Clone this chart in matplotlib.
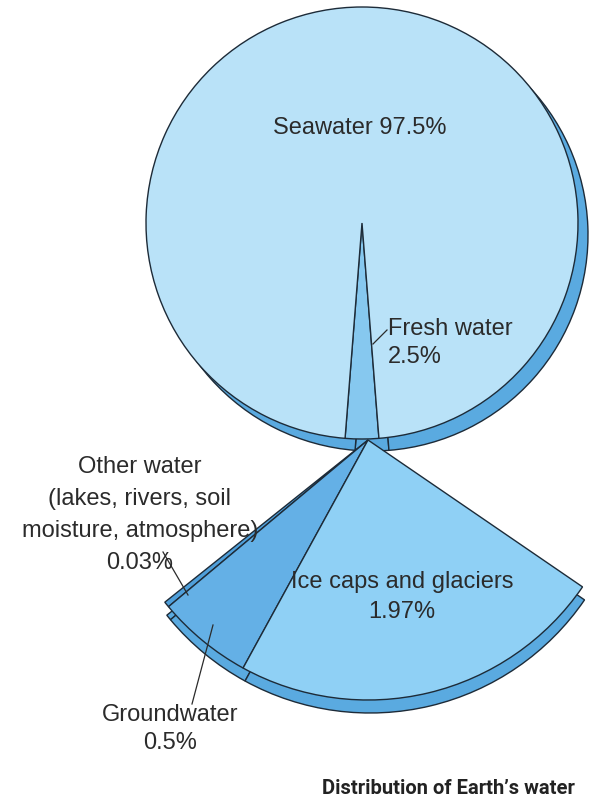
import matplotlib.pyplot as plt

# Earth's water, percent of total
world_labels = ["Fresh water", "Seawater"]
world_values = [2.5, 97.5]

# breakdown of the fresh water share (counter-clockwise order in the fan)
fresh_labels = ["Other water", "Groundwater", "Ice caps and glaciers"]
fresh_values = [0.03, 0.5, 1.97]

W, H = 596, 807
EDGE = "#1d2b38"
TEXT = "#2b2b2b"
RIM = "#5aaae0"

fig = plt.figure(figsize=(W / 100, H / 100), dpi=100)
ax = fig.add_axes([0, 0, 1, 1])

# big pie: whole planet
big_c = (362, H - 223)
big_r = 216
big_depth = (10, -12)
start = 270 - world_values[0] / sum(world_values) * 180
wp = dict(edgecolor=EDGE, linewidth=1.0)
ax.pie(world_values, radius=big_r, startangle=start,
       center=(big_c[0] + big_depth[0], big_c[1] + big_depth[1]),
       colors=[RIM, RIM], wedgeprops=wp, frame=True)
ax.pie(world_values, radius=big_r, startangle=start, center=big_c,
       colors=["#86c8ef", "#b9e2f8"], wedgeprops=wp, frame=True)

# fan: fresh water exploded out below, not to scale
fan_c = (368, H - 440)
fan_r = 260
fan_span = 107
fan_depth = (2, -13)
fan_frac = [v / sum(fresh_values) * fan_span / 360 for v in fresh_values]
fan_start = 218.6
ax.pie(fan_frac, radius=fan_r, startangle=fan_start, normalize=False,
       center=(fan_c[0] + fan_depth[0], fan_c[1] + fan_depth[1]),
       colors=[RIM] * 3, wedgeprops=wp, frame=True)
ax.pie(fan_frac, radius=fan_r, startangle=fan_start, normalize=False,
       center=fan_c, colors=["#4f9fda", "#64b0e6", "#8fd0f5"],
       wedgeprops=wp, frame=True)

# pixel canvas, y up
ax.set_xlim(0, W)
ax.set_ylim(0, H)
ax.set_aspect("equal")
ax.axis("off")

fs = 17
font = "Liberation Sans"
ax.text(360, H - 128, f"{world_labels[1]} {world_values[1]}%", ha="center",
        va="center", fontsize=fs, family=font, color=TEXT)
ax.text(388, H - 343, f"{world_labels[0]}\n{world_values[0]}%", ha="left",
        va="center", fontsize=fs, family=font, color=TEXT, linespacing=1.35)
ax.plot([373, 387], [H - 344, H - 330], color=TEXT, lw=0.9)

ax.text(140, H - 515,
        f"{fresh_labels[0]}\n(lakes, rivers, soil\nmoisture, atmosphere)\n{fresh_values[0]}%",
        ha="center", va="center", fontsize=fs, family=font, color=TEXT,
        linespacing=1.57)
ax.plot([163, 188], [H - 552, H - 595], color=TEXT, lw=0.9)

ax.text(402, H - 597, f"{fresh_labels[2]}\n{fresh_values[2]}%", ha="center",
        va="center", fontsize=fs, family=font, color=TEXT, linespacing=1.5)

ax.text(170, H - 729, f"{fresh_labels[1]}\n{fresh_values[1]}%", ha="center",
        va="center", fontsize=fs, family=font, color=TEXT, linespacing=1.35)
ax.plot([213, 192], [H - 625, H - 704], color=TEXT, lw=0.9)

ax.text(448, H - 789, "Distribution of Earth\u2019s water", ha="center",
        va="center", fontsize=14.5, family="Roboto", weight="bold",
        color="#222222")

fig.savefig("out.png", dpi=100)
